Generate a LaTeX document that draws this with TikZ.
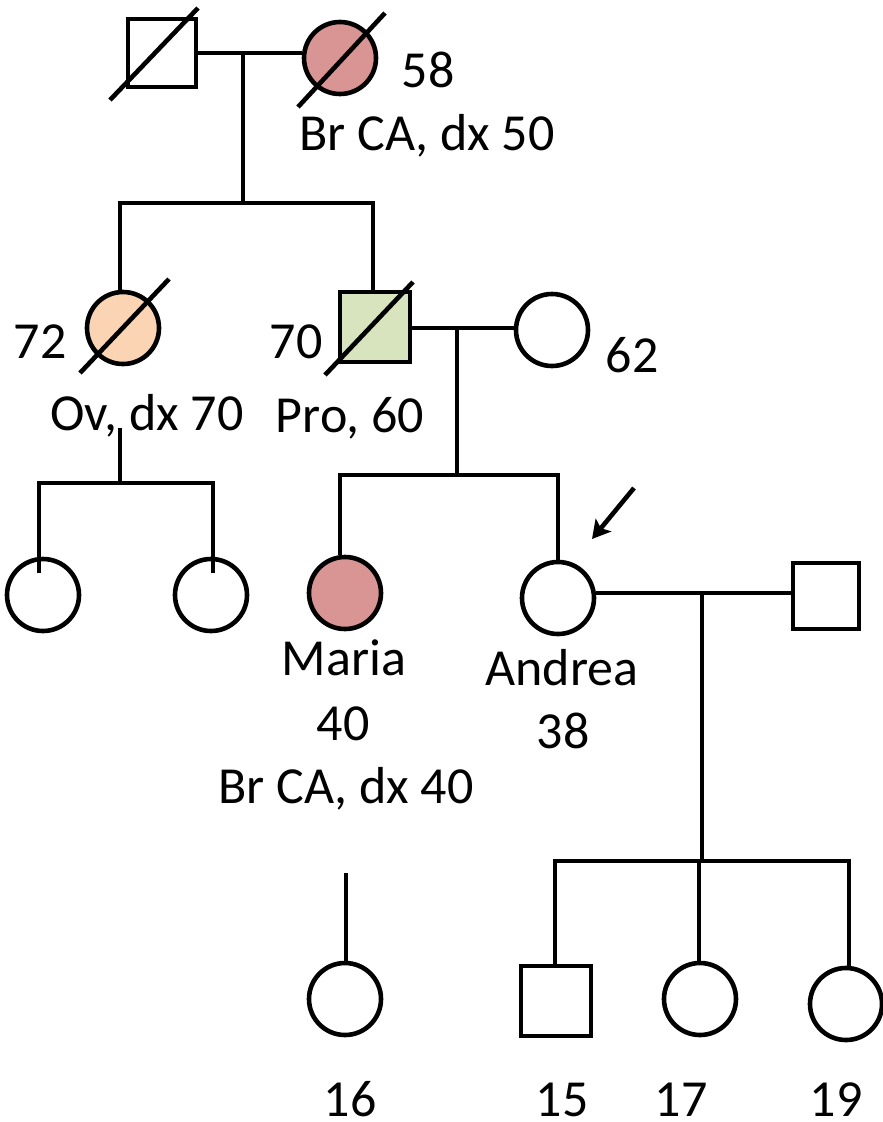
\documentclass[tikz,border=0pt]{standalone}
\usepackage{fontspec}
\setmainfont{Carlito}
\usetikzlibrary{arrows.meta,calc}
\definecolor{pinkfill}{HTML}{D99594}
\definecolor{peachfill}{HTML}{FBD4B4}
\definecolor{greenfill}{HTML}{D7E4BD}
\tikzset{
  line/.style={line width=4.6pt},
  female/.style={circle,draw,line width=4.6pt,minimum size=72pt,inner sep=0pt},
  male/.style={rectangle,draw,line width=4.6pt,minimum size=68pt,inner sep=0pt},
  lbl/.style={anchor=base,inner sep=0pt,font=\fontsize{52}{60}\selectfont},
  agelbl/.style={lbl,text depth=0pt},
  deceased/.style={line width=4.6pt}
}
\begin{document}
\begin{tikzpicture}[x=1pt,y=-1pt]
\useasboundingbox (0,0) rectangle (883,1122);

% generation I
\node[male] (gf) at (162,53) {};
\node[female,fill=pinkfill] (gm) at (340,58) {};
\draw[deceased] ($(gf)+(-52,47)$) -- ($(gf)+(36,-45)$);
\draw[deceased] ($(gm)+(-42,49)$) -- ($(gm)+(45,-45)$);
\coordinate (m1) at (243,53);
\coordinate (s1) at (243,203);
\coordinate (s1L) at (120,203);
\coordinate (s1R) at (373,203);
\draw[line] (gf.east) -- (gf.east -| gm.west);
\draw[line] (m1) -- (s1);
\draw[line,line cap=rect] (s1L) -- (s1R);
\node[lbl] (t58) at (428,87) {58};
\node[lbl] (tgm) at (427,150) {Br CA, dx 50};

% generation II
\node[female,fill=peachfill] (aunt) at (123,328) {};
\node[male,fill=greenfill,minimum size=70pt] (fa) at (375,327) {};
\node[female] (mo) at (552,330) {};
\draw[deceased] ($(aunt)+(-43,45)$) -- ($(aunt)+(46,-49)$);
\draw[deceased] ($(fa)+(-50,48)$) -- ($(fa)+(38,-45)$);
\draw[line] (s1L) -- (s1L |- aunt.north);
\draw[line] (s1R) -- (s1R |- fa.north);
\coordinate (m2) at (457,328);
\coordinate (s2) at (457,475);
\coordinate (s2L) at (340,475);
\coordinate (s2R) at (558,475);
\draw[line] (fa.east |- m2) -- (m2 -| mo.west);
\draw[line] (m2) -- (s2);
\draw[line,line cap=rect] (s2L) -- (s2R);
\node[lbl] (t72) at (40,358) {72};
\node[lbl] (t70) at (296,358) {70};
\node[lbl] (t62) at (632,372) {62};
\node[lbl] (taunt) at (147,430) {Ov, dx 70};
\node[lbl] (tfa) at (350,432) {Pro, 60};

% aunt's children
\coordinate (m4) at (120,428);
\coordinate (s4) at (120,483);
\coordinate (s4L) at (39,483);
\coordinate (s4R) at (213,483);
\node[female] (c1) at (43,595) {};
\node[female] (c2) at (211,595) {};
\draw[line] (m4) -- (s4);
\draw[line,line cap=rect] (s4L) -- (s4R);
\draw[line] (s4L) -- (39,573);
\draw[line] (s4R) -- (213,573);

% generation III
\node[female,fill=pinkfill] (maria) at (345,593) {};
\node[female] (andrea) at (558,598) {};
\node[male,minimum size=66pt] (hus) at (826,596) {};
\draw[line] (s2L) -- (s2L |- maria.north);
\draw[line] (s2R) -- (andrea.north);
\coordinate (m3) at (702,593);
\coordinate (s3) at (702,861);
\draw[line] (andrea.east |- m3) -- (m3 -| hus.west);
\draw[line] (m3) -- (s3);
\coordinate (arrS) at (634,488);
\coordinate (arrE) at (592,539);
\draw[line,-{Stealth[length=18pt,width=20pt,inset=4pt]}] (arrS) -- (arrE);
\node[lbl] (tmaria) at (344,675) {Maria};
\node[lbl] (tmage) at (343,740) {40};
\node[lbl] (tmdx) at (346,803) {Br CA, dx 40};
\node[lbl] (tandrea) at (562,685) {Andrea};
\node[lbl] (taage) at (563,748) {38};

% generation IV
\node[female] (g16) at (345,999) {};
\node[male,minimum size=70pt] (g15) at (556,1001) {};
\node[female] (g17) at (700,999) {};
\node[female] (g19) at (846,1004) {};
\coordinate (s3L) at (555,861);
\coordinate (s3R) at (849,861);
\coordinate (top16) at (346,873);
\draw[line,line cap=rect] (s3L) -- (s3R);
\draw[line] (s3L) -- (s3L |- g15.north);
\draw[line] (699,861) -- (699,962);
\draw[line] (s3R) -- (849,967);
\draw[line] (top16) -- (top16 |- g16.north);
\node[agelbl] (t16) at (350,1116) {16};
\node[agelbl] (t15) at (562,1116) {15};
\node[agelbl] (t17) at (681,1116) {17};
\node[agelbl] (t19) at (836,1116) {19};
\end{tikzpicture}
\end{document}
